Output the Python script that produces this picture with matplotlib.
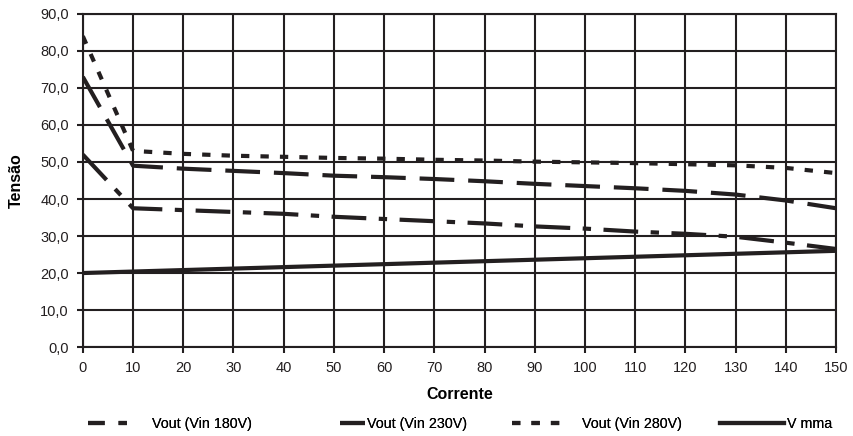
from matplotlib import pyplot as plt
from matplotlib.lines import Line2D
from matplotlib.ticker import FuncFormatter

plt.rcParams['font.family'] = ['Liberation Sans', 'DejaVu Sans']
plt.rcParams['lines.scale_dashes'] = False

corrente = [0, 10, 20, 30, 40, 50, 60, 70, 80, 90, 100, 110, 120, 130, 140, 150]
vin_180 = [52.0, 37.5, 37.0, 36.5, 36.0, 35.2, 34.6, 34.0, 33.4, 32.6, 32.0, 31.2, 30.6, 29.8, 28.2, 26.5]
vin_230 = [73.0, 49.0, 48.2, 47.6, 47.0, 46.3, 45.9, 45.4, 44.8, 44.1, 43.5, 42.9, 42.2, 41.2, 39.6, 37.5]
vin_280 = [84.0, 53.0, 52.2, 51.7, 51.4, 51.1, 50.9, 50.6, 50.4, 50.1, 49.9, 49.7, 49.4, 49.1, 48.4, 47.0]
v_mma = [20.0, 20.4, 20.8, 21.2, 21.6, 22.0, 22.4, 22.8, 23.2, 23.6, 24.0, 24.4, 24.8, 25.2, 25.6, 26.0]

fig = plt.figure(figsize=(8.54, 4.36), dpi=100)
ax = fig.add_axes([0.097, 0.204, 0.882, 0.764])

c = '#231f20'
l1, = ax.plot(corrente, vin_180, color=c, lw=3, linestyle=(0, (25, 9, 6, 9)), label='Vout (Vin 180V)')
l2, = ax.plot(corrente, vin_230, color=c, lw=3, linestyle=(0, (25, 10)), label='Vout (Vin 230V)')
l3, = ax.plot(corrente, vin_280, color=c, lw=3, linestyle=(0, (6, 8)), label='Vout (Vin 280V)')
l4, = ax.plot(corrente, v_mma, color=c, lw=3, label='V mma')

ax.set_xlim(0, 150)
ax.set_ylim(0, 90)
ax.set_xticks(range(0, 151, 10))
ax.set_yticks(range(0, 91, 10))
ax.yaxis.set_major_formatter(FuncFormatter(lambda v, p: f'{v:.1f}'.replace('.', ',')))
ax.grid(True, color=c, lw=1.5)
ax.set_axisbelow(True)
for s in ax.spines.values():
    s.set_color(c)
    s.set_linewidth(1.5)
ax.tick_params(colors=c, labelsize=10.5, width=1.5, length=4, pad=6)

ax.set_xlabel('Corrente', fontsize=11.5, fontweight='bold', labelpad=9)
ax.set_ylabel('Tensão', fontsize=11.5, fontweight='bold', labelpad=12)

# legend swatch for the 180V line: shorter dash so the dot shows up
h1 = Line2D([], [], color=c, lw=3, linestyle=(0, (12, 10, 6, 10)), label=l1.get_label())

# one legend per entry, so each handle can have its own length
entries = [(h1, 88, 3.1, 1.35), (l2, 340, 1.75, 0.15), (l3, 512, 3.6, 1.3), (l4, 720, 4.5, 0.15)]
for line, x0, hl, pad in entries:
    leg = fig.legend(handles=[line], loc='center left', bbox_to_anchor=(x0 / 854, 0.028),
                     frameon=False, fontsize=10.3, handlelength=hl, handletextpad=pad,
                     borderpad=0, borderaxespad=0)
    fig.add_artist(leg)

fig.savefig('out.png', dpi=100)
plt.close(fig)
